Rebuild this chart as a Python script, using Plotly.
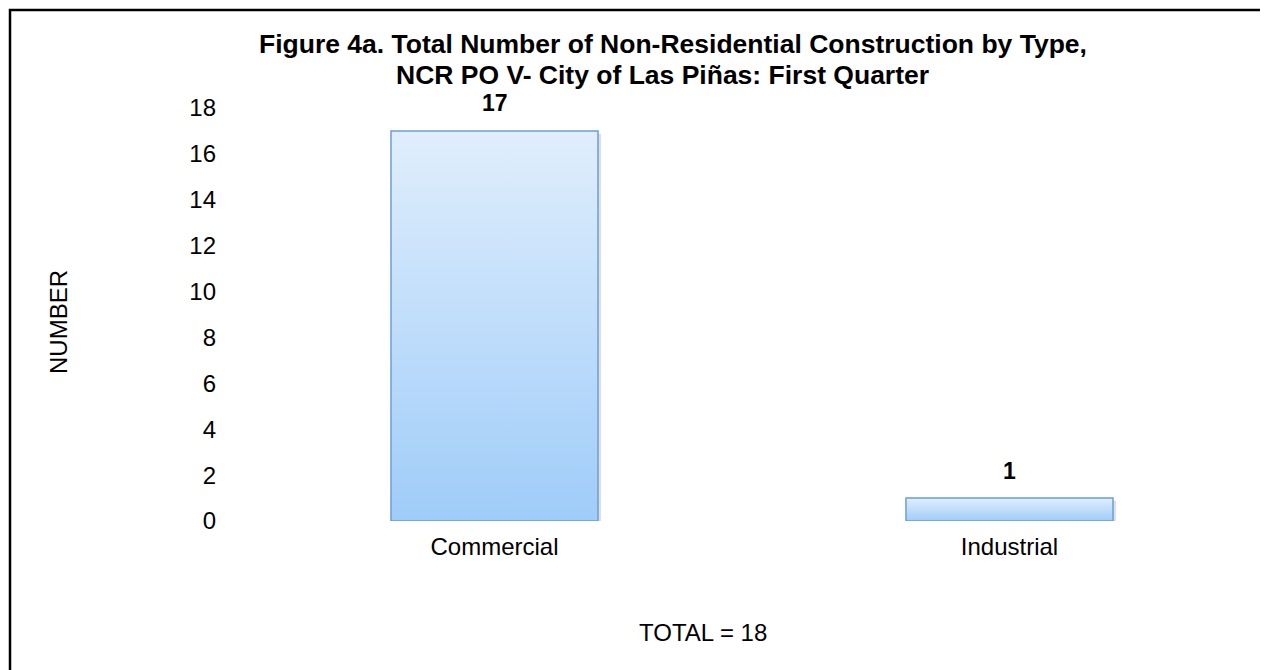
import plotly.graph_objects as go

# ---- data ----
categories = ["Commercial", "Industrial"]
values = [17, 1]
y_ticks = [0, 2, 4, 6, 8, 10, 12, 14, 16, 18]
title_lines = [
    "Figure 4a. Total Number of Non-Residential Construction by Type,",
    "NCR PO V- City of Las Piñas: First Quarter",
]
y_title = "NUMBER"
total_label = "TOTAL = " + str(sum(values))

# ---- style ----
FONT = "Liberation Sans, Arial, sans-serif"
BAR_W = 0.402
OFF = 8  # page body margin
W, H = 1268 - OFF, 670 - OFF
ML, MR, MT = 237 - OFF, 1, 108 - OFF
MB = H - (521 - OFF)
PW, PH = W - ML - MR, H - MT - MB


def px_to_paper_x(px):
    return (px - OFF - ML) / PW


def px_to_paper_y(py):
    return (H - MB - (py - OFF)) / PH


fig = go.Figure()

for i, (cat, v) in enumerate(zip(categories, values)):
    x0, x1 = i - BAR_W / 2, i + BAR_W / 2
    # soft shadow
    fig.add_trace(go.Scatter(
        x=[x0 + 0.006, x1 + 0.006, x1 + 0.006, x0 + 0.006, x0 + 0.006],
        y=[-0.12, -0.12, v - 0.12, v - 0.12, -0.12],
        fill="toself", fillcolor="rgba(0,0,0,0.12)",
        line=dict(width=0), mode="lines", hoverinfo="skip", showlegend=False,
    ))
    fig.add_trace(go.Scatter(
        x=[x0, x1, x1, x0, x0],
        y=[0, 0, v, v, 0],
        fill="toself",
        fillgradient=dict(type="vertical",
                          colorscale=[[0, "#9fccf9"], [1, "#e0eefc"]],
                          start=0, stop=v),
        line=dict(color="#6a9fd6", width=1.5),
        mode="lines", name=cat, hoverinfo="name+y", showlegend=False,
    ))
    fig.add_annotation(x=i, y=v, text="<b>%d</b>" % v, showarrow=False,
                       yanchor="bottom", yshift=12.5,
                       font=dict(family=FONT, size=23, color="black"))

fig.update_layout(
    width=W, height=H,
    margin=dict(l=ML, r=MR, t=MT, b=MB, autoexpand=False),
    paper_bgcolor="white", plot_bgcolor="white",
    font=dict(family=FONT, size=24, color="black"),
    xaxis=dict(range=[-0.5, 1.5], tickvals=list(range(len(categories))),
               ticktext=categories, showgrid=False, zeroline=False,
               showline=False, ticks="", ticklabelstandoff=9,
               tickfont=dict(size=24)),
    yaxis=dict(range=[0, 18], tickvals=y_ticks, showgrid=False,
               zeroline=False, showline=False, ticks="",
               ticklabelstandoff=20, tickfont=dict(size=24)),
    showlegend=False,
)

# title, two lines
for line, cx, cy in zip(title_lines, [672.5, 662.5], [44, 75]):
    fig.add_annotation(xref="paper", yref="paper",
                       x=px_to_paper_x(cx), y=px_to_paper_y(cy),
                       text="<b>" + line + "</b>", showarrow=False,
                       xanchor="center", yanchor="middle",
                       font=dict(family=FONT, size=26.5, color="black"))

fig.add_annotation(xref="paper", yref="paper",
                   x=px_to_paper_x(58), y=px_to_paper_y(322),
                   text=y_title, textangle=-90, showarrow=False,
                   xanchor="center", yanchor="middle",
                   font=dict(family=FONT, size=24, color="black"))

fig.add_annotation(xref="paper", yref="paper",
                   x=px_to_paper_x(703), y=px_to_paper_y(632),
                   text=total_label, showarrow=False,
                   xanchor="center", yanchor="middle",
                   font=dict(family=FONT, size=24, color="black"))

# outer border
fig.add_shape(type="rect", xref="paper", yref="paper",
              x0=px_to_paper_x(10), x1=px_to_paper_x(1266.5),
              y0=px_to_paper_y(700), y1=px_to_paper_y(10),
              line=dict(color="black", width=2.5), fillcolor="rgba(0,0,0,0)",
              layer="above")

fig.write_html("out.html")
